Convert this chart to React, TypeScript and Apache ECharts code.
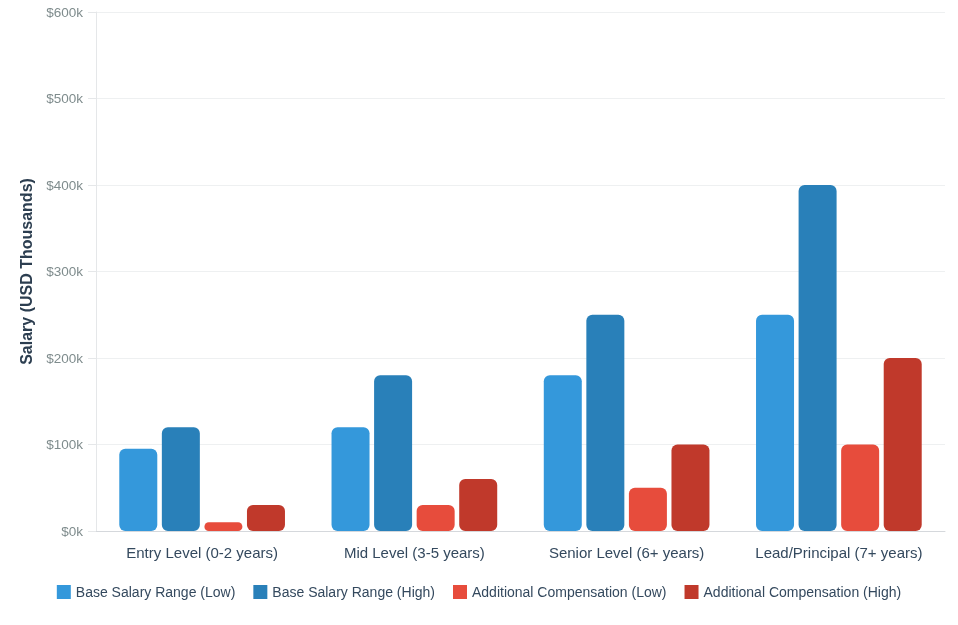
import React, { useEffect, useRef } from "react";
import * as echarts from "echarts";

const categories = [
  "Entry Level (0-2 years)",
  "Mid Level (3-5 years)",
  "Senior Level (6+ years)",
  "Lead/Principal (7+ years)",
];
const baseLow = [95, 120, 180, 250];
const baseHigh = [120, 180, 250, 400];
const addLow = [10, 30, 50, 100];
const addHigh = [30, 60, 100, 200];
const seriesNames = [
  "Base Salary Range (Low)",
  "Base Salary Range (High)",
  "Additional Compensation (Low)",
  "Additional Compensation (High)",
];
const colors = ["#3498db", "#2980b9", "#e74c3c", "#c0392b"];

export default function App() {
  const ref = useRef<HTMLDivElement>(null);
  useEffect(() => {
    if (!ref.current) return;
    const chart = echarts.init(ref.current, null, { renderer: "svg" });
    const data = [baseLow, baseHigh, addLow, addHigh];
    chart.setOption({
      animation: false,
      textStyle: { fontFamily: "Liberation Sans, Arial, sans-serif" },
      grid: { left: 96, right: 13, top: 12, bottom: 94 },
      legend: {
        bottom: 21,
        left: "center",
        itemWidth: 14,
        itemHeight: 14,
        itemGap: 18,
        icon: "rect",
        textStyle: { color: "#34495e", fontSize: 14 },
        data: seriesNames,
      },
      xAxis: {
        type: "category",
        data: categories,
        axisLine: { show: true, lineStyle: { color: "#d5d8dc" } },
        axisTick: { show: false },
        axisLabel: { color: "#34495e", fontSize: 15, margin: 14, interval: 0 },
      },
      yAxis: {
        type: "value",
        min: 0,
        max: 600,
        interval: 100,
        name: "Salary (USD Thousands)",
        nameLocation: "middle",
        nameGap: 62,
        nameTextStyle: { color: "#2c3e50", fontSize: 16, fontWeight: "bold" },
        axisLine: { show: true, lineStyle: { color: "#e5e7e9" } },
        axisTick: { show: true, length: 8, lineStyle: { color: "#e5e7e9" } },
        splitLine: { lineStyle: { color: "#eef0f1" } },
        axisLabel: {
          color: "#7f8c8d",
          fontSize: 13.5,
          margin: 13,
          formatter: (v: number) => "$" + v + "k",
        },
      },
      series: seriesNames.map((name, i) => ({
        name,
        type: "bar",
        data: data[i],
        barWidth: 38,
        barGap: "12%",
        itemStyle: {
          color: colors[i],
          borderRadius: 6,
        },
      })),
    });
    return () => chart.dispose();
  }, []);
  return (
    <div
      ref={ref}
      style={{ position: "fixed", left: 0, top: 0, width: 958, height: 625 }}
    />
  );
}
